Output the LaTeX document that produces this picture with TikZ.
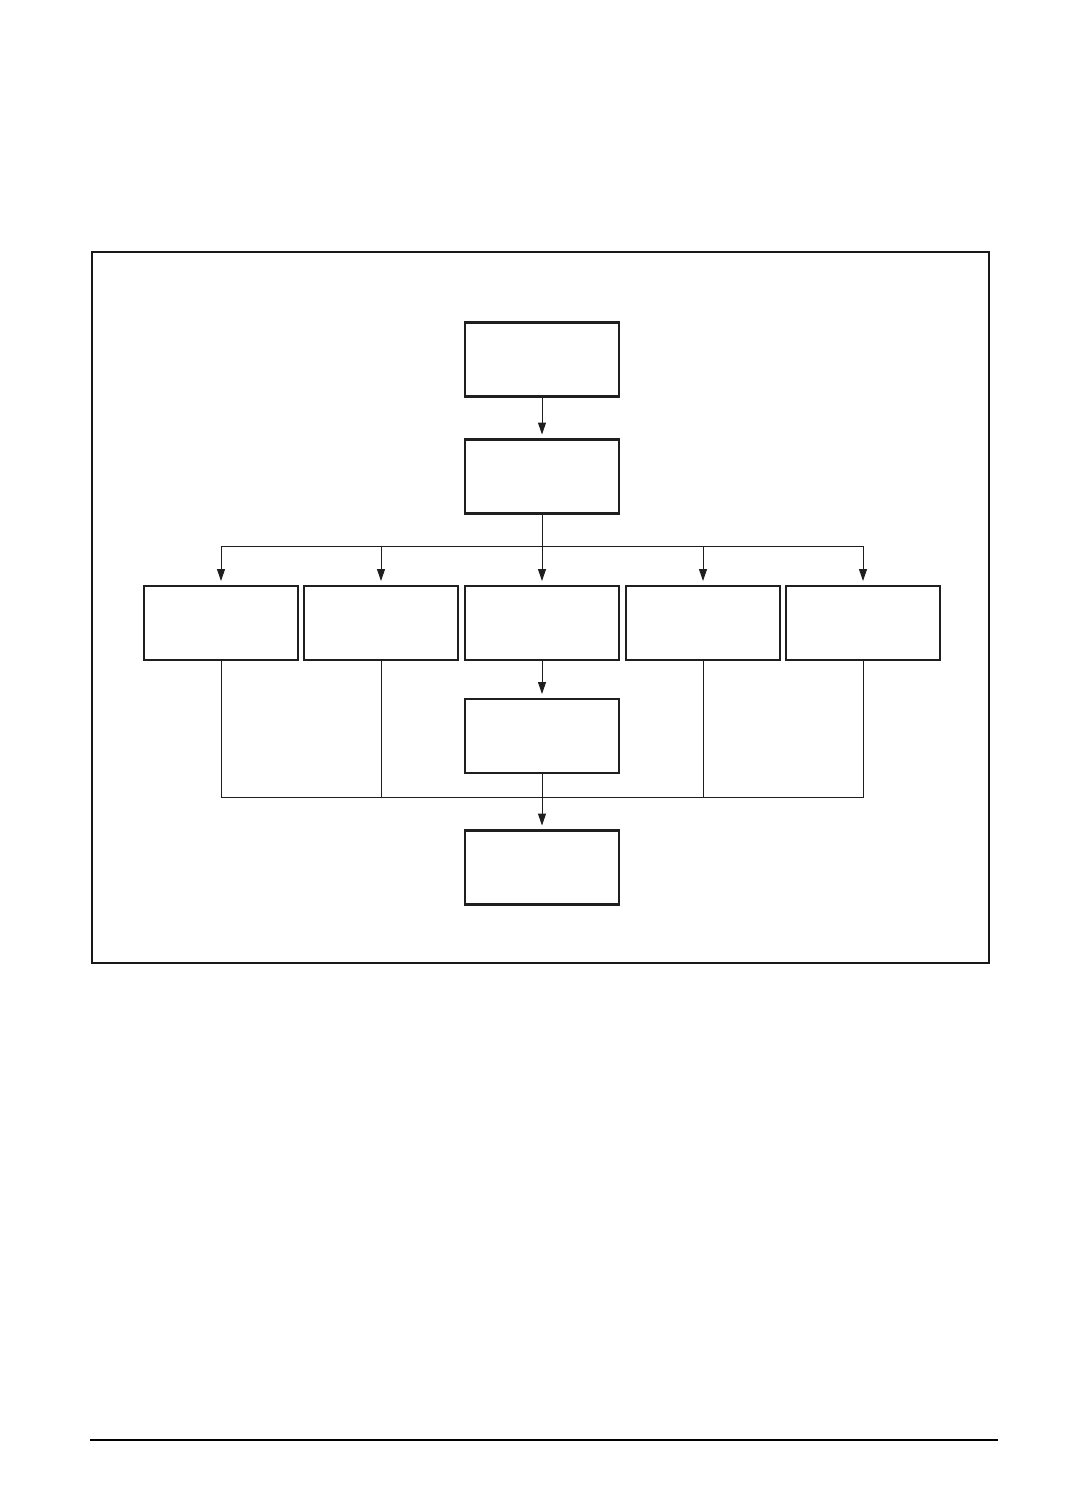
\documentclass[tikz,border=0pt]{standalone}
\usetikzlibrary{arrows.meta}
\begin{document}
\begin{tikzpicture}[x=0.025cm, y=-0.025cm,
  box/.style = {shape=rectangle, draw=black!88, line width=1.8pt, minimum width=3.84cm, minimum height=1.86cm},
  link/.style = {draw=black!88, line width=0.7pt},
  arr/.style = {link, -{Triangle[length=0.3cm, width=0.2cm]}, shorten >=2.5pt}]
  \useasboundingbox (0,0) rectangle (1080,1512);
  \draw[line width=1.4pt, black!90] (92,252) rectangle (989,963);
  \draw[line width=1.1pt] (90,1440) -- (998,1440);
  % boxes
  \node[box] (start) at (542,359.5) {};
  \node[box] (split) at (542,476.5) {};
  \foreach \name/\x in {a/221, b/381, c/542, d/703, e/863}
    \node[box] (\name) at (\x,623) {};
  \node[box] (mid) at (542,736) {};
  \node[box] (finish) at (542,867.5) {};
  \coordinate (fork) at (542,546);
  \coordinate (merge) at (542,797);
  % connectors
  \draw[arr] (start) -- (split);
  \draw[link] (split) -- (fork);
  \foreach \name in {a, b, c, d, e}
    \draw[arr] (fork) -| (\name);
  \draw[arr] (c) -- (mid);
  \foreach \name in {a, b, d, e}
    \draw[link] (\name) |- (merge);
  \draw[arr] (mid) -- (finish);
\end{tikzpicture}
\end{document}
